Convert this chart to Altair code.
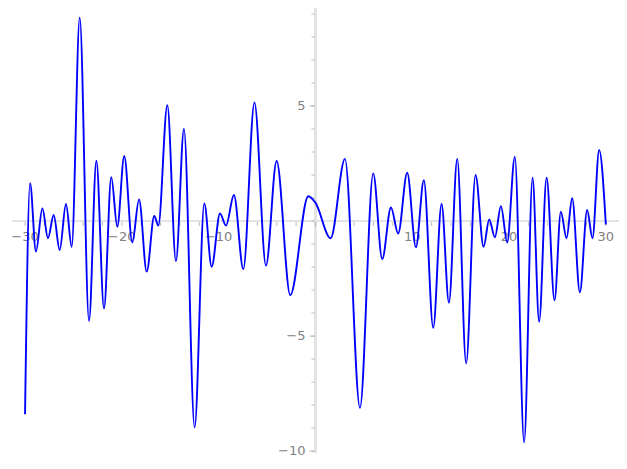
import altair as alt
import pandas as pd

# curve samples
xs = [-30.0, -29.48, -28.87, -28.21, -27.63, -27.04, -26.42, -25.77, -25.18, -24.35,
      -23.39, -22.63, -21.84, -21.09, -20.47, -19.75, -18.92, -18.22, -17.43, -16.65,
      -16.23, -15.30, -14.41, -13.58, -12.48, -11.48, -10.72, -9.86, -9.24, -8.42,
      -7.45, -6.30, -5.11, -4.01, -2.60, -0.74, 0.0, 1.57, 3.05, 4.60,
      5.97, 6.90, 7.80, 8.55, 9.48, 10.38, 11.20, 12.17, 13.03, 13.79,
      14.65, 15.57, 16.54, 17.37, 17.95, 18.54, 19.16, 19.81, 20.60, 21.56,
      22.43, 23.11, 23.88, 24.70, 25.35, 25.94, 26.52, 27.32, 28.07, 28.62,
      29.31, 30.0]
ys = [-8.4, 1.64, -1.33, 0.55, -0.75, 0.26, -1.26, 0.74, -1.12, 8.84,
      -4.35, 2.62, -3.80, 1.91, -0.25, 2.83, -0.93, 0.94, -2.2, 0.22,
      -0.2, 5.04, -1.74, 4.0, -8.97, 0.77, -1.99, 0.33, -0.2, 1.13,
      -2.09, 5.16, -1.94, 2.61, -3.22, 1.08, 0.8, -0.75, 2.70, -8.12,
      2.07, -1.65, 0.59, -0.54, 2.1, -1.14, 1.77, -4.64, 0.74, -3.55,
      2.70, -6.19, 2.0, -1.12, 0.07, -0.71, 0.65, -0.93, 2.8, -9.62,
      1.88, -4.38, 1.88, -3.45, 0.41, -0.75, 0.99, -3.1, 0.48, -0.75,
      3.09, -0.15]

x_ticks = list(range(-30, 31, 2))
y_ticks = list(range(-10, 10))
y_major = [-10, -5, 5]
x_labels = [-30, -20, -10, 10, 20, 30]
y_labels = [-10, -5, 5]

x_dom = [-31.76, 31.36]
y_dom = [-10.43, 9.26]
xs_scale = alt.Scale(domain=x_dom, nice=False, zero=False)
ys_scale = alt.Scale(domain=y_dom, nice=False, zero=False)

curve_df = pd.DataFrame({"x": xs, "y": ys})
xt_df = pd.DataFrame({"x": x_ticks, "y": [0] * len(x_ticks)})
yt_df = pd.DataFrame({"x": [0] * len(y_ticks), "y": y_ticks})
ym_df = pd.DataFrame({"x": [0] * len(y_major), "y": y_major})
xl_df = pd.DataFrame({"x": x_labels, "y": [0] * len(x_labels),
                      "t": [("\u2212" if v < 0 else "") + str(abs(v)) for v in x_labels]})
yl_df = pd.DataFrame({"x": [0] * len(y_labels), "y": y_labels,
                      "t": [("\u2212" if v < 0 else "") + str(abs(v)) for v in y_labels]})

X = lambda: alt.X("x:Q", scale=xs_scale, axis=None)
Y = lambda: alt.Y("y:Q", scale=ys_scale, axis=None)

axis_col = "#e3e3e3"
tick_col = "#a0a0a0"
lab_col = "#808080"

base = alt.Chart(curve_df)

xline = base.mark_rule(color=axis_col, strokeWidth=2).encode(
    x=alt.datum(-31.3, scale=xs_scale, axis=None), x2=alt.datum(31.3),
    y=alt.datum(0, scale=ys_scale, axis=None))
yline = base.mark_rule(color=axis_col, strokeWidth=2).encode(
    y=alt.datum(-10.05, scale=ys_scale, axis=None), y2=alt.datum(9.3),
    x=alt.datum(0, scale=xs_scale, axis=None))

xt = alt.Chart(xt_df).mark_tick(orient="vertical", size=4, thickness=1, color=tick_col, yOffset=3).encode(x=X(), y=Y())
yt = alt.Chart(yt_df).mark_tick(orient="horizontal", size=3, thickness=1, color=tick_col, xOffset=-2.5).encode(x=X(), y=Y())
ym = alt.Chart(ym_df).mark_tick(orient="horizontal", size=5, thickness=1, color=tick_col, xOffset=-3.5).encode(x=X(), y=Y())

xl = alt.Chart(xl_df).mark_text(font="DejaVu Sans", fontSize=13, color=lab_col, dy=16,
                                align="center", baseline="middle").encode(x=X(), y=Y(), text="t:N")
yl = alt.Chart(yl_df).mark_text(font="DejaVu Sans", fontSize=13, color=lab_col, dx=-10,
                                align="right", baseline="middle").encode(x=X(), y=Y(), text="t:N")

line = base.mark_line(color="#0000ff", strokeWidth=1.9, interpolate="monotone").encode(x=X(), y=Y())

chart = alt.layer(xline, yline, xt, yt, ym, xl, yl, line).properties(
    width=611, height=453, autosize=alt.AutoSizeParams(type="none"), padding=0
).configure_view(stroke=None)

chart.save("out.html", embed_options={"renderer": "svg", "actions": False})
